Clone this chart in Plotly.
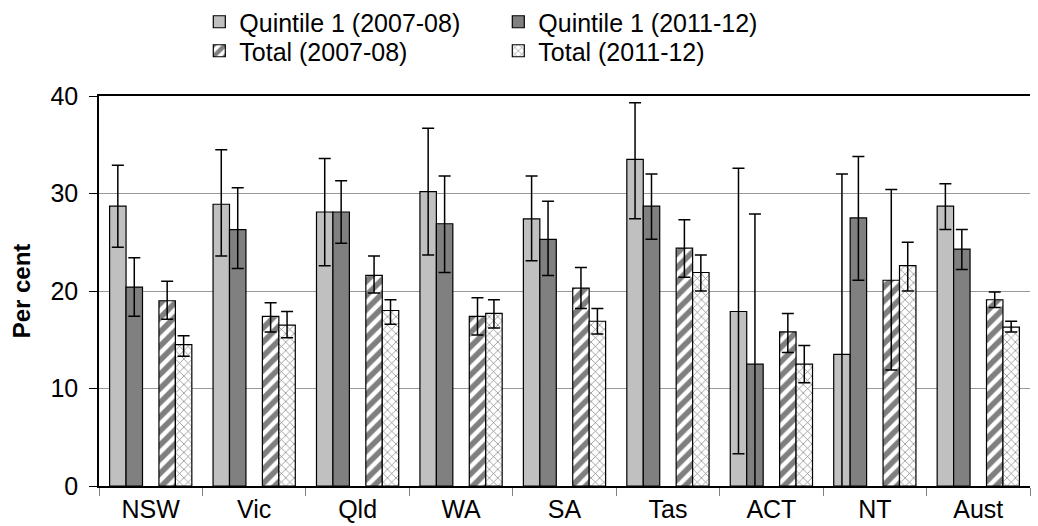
import plotly.graph_objects as go

categories = ["NSW", "Vic", "Qld", "WA", "SA", "Tas", "ACT", "NT", "Aust"]

q1_0708 = [28.7, 28.9, 28.1, 30.2, 27.4, 33.5, 17.9, 13.5, 28.7]
q1_0708_hi = [32.9, 34.5, 33.6, 36.7, 31.8, 39.3, 32.6, 32.0, 31.0]
q1_0708_lo = [24.5, 23.6, 22.6, 23.7, 23.1, 27.4, 3.3, -5.0, 26.3]

q1_1112 = [20.4, 26.3, 28.1, 26.9, 25.3, 28.7, 12.5, 27.5, 24.3]
q1_1112_hi = [23.4, 30.6, 31.3, 31.8, 29.2, 32.0, 27.9, 33.8, 26.3]
q1_1112_lo = [17.4, 22.3, 24.9, 21.9, 21.6, 25.3, -2.9, 21.1, 22.2]

tot_0708 = [19.0, 17.4, 21.6, 17.4, 20.3, 24.4, 15.8, 21.1, 19.1]
tot_0708_hi = [21.0, 18.8, 23.6, 19.3, 22.4, 27.3, 17.7, 30.4, 19.9]
tot_0708_lo = [17.1, 15.8, 19.8, 15.5, 18.2, 21.4, 13.7, 11.9, 18.3]

tot_1112 = [14.5, 16.5, 18.0, 17.7, 16.9, 21.9, 12.5, 22.6, 16.3]
tot_1112_hi = [15.4, 17.9, 19.1, 19.1, 18.2, 23.7, 14.4, 25.0, 16.9]
tot_1112_lo = [13.3, 15.2, 16.6, 16.2, 15.6, 20.0, 10.6, 20.0, 15.8]

FONT = "Arial, 'Liberation Sans', sans-serif"


def err(vals, hi, lo):
    return dict(type="data", symmetric=False,
                array=[h - v for h, v in zip(hi, vals)],
                arrayminus=[v - l for v, l in zip(vals, lo)],
                color="black", thickness=1.5, width=6)


fig = go.Figure()
fig.add_trace(go.Bar(x=categories, y=q1_0708, name="Quintile 1 (2007-08)",
                     marker=dict(color="#C0C0C0", line=dict(color="black", width=1.2)),
                     error_y=err(q1_0708, q1_0708_hi, q1_0708_lo), legend="legend"))
fig.add_trace(go.Bar(x=categories, y=q1_1112, name="Quintile 1 (2011-12)",
                     marker=dict(color="#808080", line=dict(color="black", width=1.2)),
                     error_y=err(q1_1112, q1_1112_hi, q1_1112_lo), legend="legend"))
# empty spacer slot between the two pairs
fig.add_trace(go.Bar(x=categories, y=[0] * len(categories), name="spacer",
                     marker=dict(color="rgba(0,0,0,0)", line=dict(width=0)),
                     showlegend=False, hoverinfo="skip"))
fig.add_trace(go.Bar(x=categories, y=tot_0708, name="Total (2007-08)",
                     marker=dict(color="white", line=dict(color="black", width=1.2),
                                 pattern=dict(shape="/", fgcolor="black", bgcolor="white",
                                              size=10, solidity=0.55)),
                     error_y=err(tot_0708, tot_0708_hi, tot_0708_lo), legend="legend2"))
fig.add_trace(go.Bar(x=categories, y=tot_1112, name="Total (2011-12)",
                     marker=dict(color="white", line=dict(color="black", width=1.2),
                                 pattern=dict(shape="x", fgcolor="black", bgcolor="white",
                                              size=6, solidity=0.22)),
                     error_y=err(tot_1112, tot_1112_hi, tot_1112_lo), legend="legend2"))

legend_common = dict(orientation="h", xref="container", yref="container",
                     xanchor="left", yanchor="middle", entrywidth=254,
                     entrywidthmode="pixels", itemwidth=30,
                     font=dict(family=FONT, size=25, color="black"),
                     bgcolor="rgba(0,0,0,0)", traceorder="normal")

fig.update_layout(
    width=1038, height=526,
    margin=dict(l=99, r=8, t=96, b=40),
    paper_bgcolor="white", plot_bgcolor="white",
    barmode="group", bargap=0.205, bargroupgap=0,
    font=dict(family=FONT, size=25, color="black"),
    legend=dict(x=0.192, y=1 - 22 / 526, **legend_common),
    legend2=dict(x=0.192, y=1 - 51 / 526, **legend_common),
    xaxis=dict(showline=True, linecolor="black", linewidth=1.5, mirror=True,
               ticks="outside", tickson="boundaries", ticklen=8, tickcolor="#808080",
               tickfont=dict(size=25, family=FONT, color="black"), showgrid=False,
               automargin=False),
    yaxis=dict(range=[0, 40], dtick=10, showline=True, linecolor="black", linewidth=1.5,
               ticks="outside", ticklen=8, tickcolor="black", ticklabelstandoff=6,
               gridcolor="#999999", gridwidth=1.2, zeroline=False, automargin=False,
               tickfont=dict(size=25, family=FONT, color="black"),
               title=dict(text="<b>Per cent</b>", font=dict(size=24, family=FONT),
                          standoff=13)),
)

fig.write_html("out.html")
